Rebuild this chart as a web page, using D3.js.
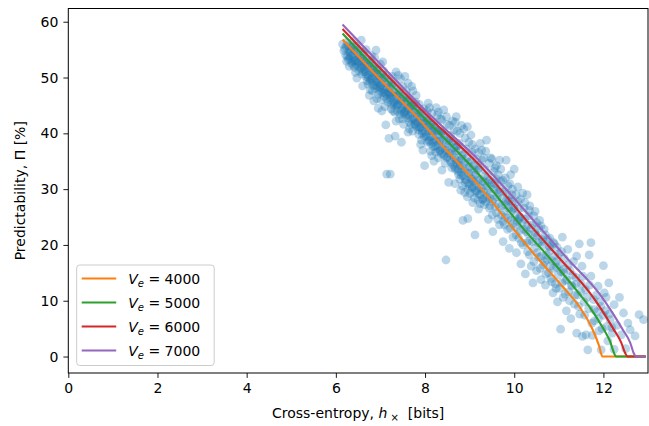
<!DOCTYPE html>
<html>
<head>
<meta charset="utf-8">
<script src="https://cdn.jsdelivr.net/npm/d3@7"></script>
<style>
  body { margin: 0; background: #fff; }
  text { font-family: "DejaVu Sans", sans-serif; fill: #000; }
</style>
</head>
<body>
<script>
// measured points: cross-entropy (bits) vs predictability (%)
var points = [
  [6.15,56.0],[6.2,55.2],[6.22,54.0],[6.25,56.3],[6.28,53.2],[6.3,55.0],[6.33,54.4],[6.35,52.6],[6.38,55.6],[6.4,53.5],
  [6.42,51.8],[6.45,54.8],[6.47,49.9],[6.48,52.9],[6.5,53.9],[6.52,51.2],[6.55,55.2],[6.57,52.3],[6.58,50.6],[6.6,53.4],
  [6.62,54.6],[6.3,52.0],[6.4,56.5],[6.27,55.7],[6.36,53.0],[6.57,56.7],
  [6.18,54.8],[6.23,55.6],[6.26,53.8],[6.29,54.6],[6.31,53.4],[6.34,55.3],[6.37,54.1],[6.39,52.2],[6.41,54.9],[6.43,53.1],
  [6.46,52.4],[6.49,54.3],[6.51,52.7],[6.53,53.6],[6.56,51.6],[6.59,52.9],[6.61,51.0],[6.63,53.0],[6.24,52.9],[6.44,50.9],
  [6.32,53.8],[6.42,53.0],[6.5,52.0],[6.58,51.8],[6.45,55.6],[6.62,54.2],
  [6.65,52.0],[6.67,50.2],[6.7,53.2],[6.72,48.8],[6.75,51.4],[6.78,49.6],[6.8,52.6],[6.82,47.6],[6.85,50.8],[6.87,53.6],
  [6.9,49.2],[6.9,54.9],[6.92,51.6],[6.95,47.0],[6.97,50.2],[7.0,48.4],[7.0,52.4],[7.02,46.0],[7.05,49.8],[7.07,51.2],
  [7.1,47.2],[7.1,44.8],[7.12,41.5],[7.13,50.4],[7.15,48.2],[7.17,45.6],[7.2,49.4],[7.2,46.8],[6.75,46.8],[6.85,45.8],
  [6.6,48.5],[6.95,44.5],[6.68,55.0],[6.8,53.9],[7.05,52.8],
  [6.64,51.4],[6.66,52.6],[6.69,50.6],[6.71,51.8],[6.73,50.0],[6.74,52.2],[6.76,49.2],[6.79,50.8],[6.81,49.9],[6.83,51.6],
  [6.84,48.6],[6.86,50.1],[6.88,48.0],[6.89,51.0],[6.91,49.6],[6.93,48.4],[6.94,50.6],[6.96,49.0],[6.98,47.6],[6.99,49.8],
  [7.01,48.8],[7.03,47.4],[7.04,50.6],[7.06,48.0],[7.08,46.6],[7.09,49.0],[7.11,47.8],[7.14,46.2],[7.16,49.0],[7.18,47.4],
  [6.77,47.8],[6.92,46.2],[7.03,44.0],[6.7,49.4],[6.86,52.2],
  [6.66,51.0],[6.74,50.4],[6.82,49.2],[6.9,48.6],[6.98,48.2],[7.06,47.4],[7.14,47.0],[6.78,53.0],[6.94,51.4],[7.1,50.0],
  [7.22,48.0],[7.25,45.2],[7.27,50.2],[7.3,46.6],[7.32,43.8],[7.33,48.8],[7.35,51.0],[7.37,45.0],[7.4,47.4],[7.42,42.6],
  [7.45,49.8],[7.47,44.2],[7.48,46.2],[7.5,48.4],[7.52,41.6],[7.55,45.4],[7.57,43.2],[7.58,47.6],[7.6,44.6],[7.62,49.0],
  [7.65,42.0],[7.67,46.0],[7.7,43.6],[7.72,40.4],[7.73,47.6],[7.75,45.0],[7.77,41.8],[7.8,44.2],[7.8,46.8],[7.19,39.1],
  [7.33,39.5],[7.47,38.4],[7.14,32.7],[7.22,32.7],[7.4,50.4],[7.55,50.2],[7.28,44.0],[7.62,40.2],[7.7,48.4],
  [7.21,46.0],[7.23,47.2],[7.24,44.4],[7.26,46.8],[7.29,45.6],[7.31,47.4],[7.34,45.4],[7.36,46.6],[7.38,44.0],[7.39,46.0],
  [7.41,45.2],[7.43,47.0],[7.44,43.4],[7.46,45.8],[7.49,44.6],[7.51,46.6],[7.53,43.8],[7.54,45.0],[7.56,44.0],[7.59,45.8],
  [7.61,42.8],[7.63,44.4],[7.64,46.2],[7.66,43.2],[7.68,44.8],[7.69,41.6],[7.71,45.2],[7.74,42.6],[7.76,43.8],[7.78,42.2],
  [7.79,45.6],[7.35,42.2],[7.5,42.6],[7.65,40.8],[7.27,48.6],
  [7.22,46.4],[7.3,45.2],[7.38,45.2],[7.46,44.0],[7.54,43.6],[7.62,43.4],[7.7,42.4],[7.78,41.6],[7.26,48.8],[7.42,47.6],
  [7.58,46.4],[7.74,45.0],
  [7.82,42.8],[7.85,40.6],[7.87,45.2],[7.9,43.6],[7.92,38.8],[7.95,41.8],[7.95,37.0],[7.97,44.4],[7.99,34.2],[8.0,40.2],
  [8.02,42.8],[8.05,38.4],[8.07,45.4],[8.1,41.4],[8.12,36.8],[8.15,43.6],[8.17,39.6],[8.2,42.0],[8.22,37.6],[8.25,44.6],
  [8.27,40.4],[8.3,35.6],[8.32,38.8],[8.35,42.6],[8.37,36.4],[8.4,40.0],[8.42,44.2],[8.45,34.6],[8.47,38.2],[8.5,41.6],
  [8.53,31.2],[8.47,17.3],[8.1,44.6],[8.3,43.8],[8.2,35.0],[7.88,41.0],[8.05,44.0],[8.38,33.4],
  [7.81,41.2],[7.83,43.6],[7.84,42.0],[7.86,39.8],[7.89,42.6],[7.91,41.0],[7.93,43.0],[7.94,40.0],[7.96,42.2],[7.98,39.4],
  [8.01,41.6],[8.03,39.8],[8.04,41.0],[8.06,42.2],[8.08,38.6],[8.09,40.6],[8.11,39.4],[8.13,41.8],[8.14,38.2],[8.16,40.4],
  [8.18,37.6],[8.19,41.0],[8.21,39.0],[8.23,40.6],[8.24,36.6],[8.26,38.6],[8.28,39.8],[8.29,37.2],[8.31,40.4],[8.33,36.8],
  [8.34,38.6],[8.36,40.2],[8.39,37.4],[8.41,38.8],[8.43,36.2],[8.44,39.6],[8.46,37.0],[8.49,35.6],[7.9,38.0],[8.15,36.0],
  [7.86,41.2],[7.94,40.4],[8.02,39.4],[8.1,38.8],[8.18,38.4],[8.26,37.8],[8.34,37.0],[8.42,36.0],[7.9,44.0],[8.06,42.6],
  [8.22,41.2],[8.38,40.4],[8.28,43.2],[8.38,42.4],[8.48,43.0],
  [8.55,36.4],[8.57,39.6],[8.6,33.8],[8.62,42.2],[8.65,37.4],[8.67,31.0],[8.7,35.2],[8.72,40.4],[8.75,32.6],[8.77,38.2],
  [8.8,29.8],[8.82,36.0],[8.85,24.4],[8.85,33.8],[8.87,40.8],[8.9,31.2],[8.92,37.2],[8.95,28.6],[8.96,24.7],[8.97,34.8],
  [9.0,30.6],[9.03,39.7],[9.05,36.6],[9.07,27.6],[9.1,33.0],[9.12,21.8],[9.12,29.4],[9.15,35.4],[9.17,31.6],[9.2,26.4],
  [9.22,33.8],[9.25,29.0],[9.27,37.0],[9.3,31.4],[8.6,38.4],[8.7,43.0],[8.95,41.2],[9.28,35.2],[8.75,36.8],[9.05,31.8],
  [8.51,37.6],[8.54,39.0],[8.56,35.2],[8.58,37.0],[8.61,36.2],[8.63,34.4],[8.64,38.6],[8.66,35.6],[8.68,33.6],[8.69,36.8],
  [8.71,34.6],[8.73,37.8],[8.74,33.2],[8.76,35.0],[8.78,31.8],[8.79,34.2],[8.81,33.0],[8.83,35.4],[8.84,30.6],[8.86,32.4],
  [8.88,34.6],[8.89,29.4],[8.91,33.2],[8.93,31.6],[8.94,35.6],[8.96,30.0],[8.98,32.8],[8.99,34.0],[9.01,29.2],[9.02,32.0],
  [9.04,33.6],[9.06,30.2],[9.08,31.4],[9.09,34.2],[9.11,28.4],[9.13,31.0],[9.14,32.6],[9.16,29.6],[9.18,33.4],[9.19,28.0],
  [9.21,30.4],[9.23,31.8],[9.24,27.4],[9.26,30.2],[9.29,28.2],
  [8.5,35.8],[8.58,34.8],[8.66,34.0],[8.74,33.6],[8.82,32.4],[8.9,31.8],[8.98,31.0],[9.06,30.4],[9.14,29.8],[9.22,29.0],
  [8.54,38.6],[8.7,37.6],[8.86,36.2],[9.02,35.0],[9.18,34.2],
  [8.55,41.4],[8.65,40.6],[8.68,42.0],[8.78,40.0],[8.82,41.4],[8.9,39.2],[8.98,38.4],[9.06,38.0],[9.12,37.2],[9.2,36.6],
  [9.24,38.2],
  [9.33,27.2],[9.35,33.4],[9.38,38.8],[9.4,29.8],[9.42,24.6],[9.45,31.6],[9.47,35.6],[9.5,27.8],[9.52,22.4],[9.55,30.0],
  [9.57,33.8],[9.6,25.8],[9.62,28.6],[9.67,35.2],[9.67,23.6],[9.7,31.4],[9.72,27.0],[9.75,20.6],[9.77,29.6],[9.8,25.0],
  [9.82,35.2],[9.85,22.8],[9.87,27.8],[9.89,19.4],[9.9,31.0],[9.92,24.4],[9.95,29.0],[9.97,21.4],[10.0,26.6],[10.0,33.6],
  [9.45,28.4],[9.6,31.8],[9.75,24.2],[9.9,28.0],
  [9.31,29.6],[9.34,31.2],[9.36,27.8],[9.39,30.6],[9.41,32.2],[9.44,26.6],[9.46,29.2],[9.49,30.8],[9.51,25.4],[9.53,28.2],
  [9.56,31.0],[9.58,26.8],[9.61,29.8],[9.63,24.6],[9.66,27.4],[9.68,30.0],[9.71,25.4],[9.73,28.4],[9.76,26.0],[9.78,23.6],
  [9.81,27.2],[9.83,29.2],[9.86,24.8],[9.88,26.6],[9.91,23.0],[9.93,26.0],[9.96,27.8],[9.98,23.8],
  [9.3,28.2],[9.38,28.6],[9.46,27.0],[9.34,32.4],[9.5,31.2],[9.66,29.4],[9.82,28.0],[9.98,26.6],
  [9.32,35.6],[9.36,36.8],[9.44,34.6],[9.5,35.4],[9.54,33.2],[9.6,34.2],[9.64,32.6],[9.7,33.6],[9.74,31.6],[9.8,32.0],
  [9.86,30.6],[9.92,32.6],[9.96,30.0],
  [10.03,23.2],[10.05,18.6],[10.08,27.8],[10.1,21.2],[10.12,25.0],[10.15,16.6],[10.18,23.8],[10.19,29.3],[10.2,20.0],[10.22,26.6],
  [10.25,14.8],[10.27,22.4],[10.29,29.0],[10.3,18.8],[10.32,25.2],[10.35,20.8],[10.38,16.2],[10.4,23.6],[10.42,13.2],[10.45,19.4],
  [10.47,26.0],[10.5,15.4],[10.52,21.6],[10.55,17.8],[10.57,24.4],[10.6,13.8],[10.62,19.8],[10.65,16.4],[10.67,22.8],[10.7,12.8],
  [10.72,18.2],[10.75,21.0],[10.77,15.0],[10.8,19.6],[10.1,24.6],[10.35,27.0],[10.55,23.0],
  [10.02,25.2],[10.04,21.8],[10.07,24.2],[10.09,26.4],[10.13,22.6],[10.16,20.4],[10.21,22.8],[10.24,24.6],[10.28,20.4],[10.31,22.0],
  [10.34,18.2],[10.37,23.0],[10.41,20.6],[10.44,17.0],[10.48,21.8],[10.51,18.6],[10.54,20.4],[10.58,15.8],[10.61,18.0],[10.64,21.0],
  [10.68,17.0],[10.71,14.8],[10.74,17.4],[10.78,19.8],[10.81,16.2],[10.84,13.4],[10.88,15.8],[10.91,18.0],[10.94,12.2],[10.98,14.6],
  [10.14,25.0],[10.3,23.6],[10.46,22.2],[10.62,20.6],[10.78,18.8],[10.94,17.0],
  [10.04,29.0],[10.08,30.4],[10.14,28.2],[10.24,27.6],[10.34,26.2],[10.44,25.2],[10.5,24.0],[10.6,23.4],[10.7,21.8],[10.8,21.2],
  [10.88,20.4],[10.96,19.6],
  [10.82,14.0],[10.85,17.2],[10.87,11.4],[10.9,20.2],[10.92,13.0],[10.95,16.0],[10.97,9.8],[11.0,18.4],[11.02,12.2],[11.04,4.9],
  [11.05,15.2],[11.08,21.4],[11.1,10.6],[11.12,17.6],[11.15,13.6],[11.17,8.2],[11.2,19.2],[11.22,11.6],[11.25,15.4],[11.27,6.8],
  [11.3,12.6],[11.33,17.0],[11.35,9.4],[11.38,14.2],[11.4,4.2],[11.42,11.0],[11.46,20.2],[11.47,7.6],[11.5,13.0],[11.52,16.2],
  [11.53,3.6],[11.57,9.8],[11.6,12.0],[11.61,3.9],[11.4,18.0],
  [11.03,16.6],[11.07,13.2],[11.11,15.0],[11.14,11.2],[11.18,13.8],[11.21,16.4],[11.24,10.0],[11.28,12.8],[11.31,14.6],[11.36,11.0],
  [11.39,13.0],[11.44,9.0],[11.49,11.6],[11.54,14.4],[11.58,7.4],[11.63,10.6],[11.69,12.8],[11.74,6.0],[11.79,8.4],[11.84,11.0],
  [11.89,6.8],[11.94,9.0],[11.97,5.0],[12.04,8.2],[12.13,7.6],[12.19,5.2],[11.06,18.8],[11.1,15.6],
  [11.65,1.2],[11.67,8.6],[11.72,20.4],[11.72,14.4],[11.75,3.8],[11.78,10.2],[11.8,6.4],[11.68,18.2],[11.85,8.0],[11.88,12.6],
  [11.9,4.6],[11.92,9.8],[11.95,1.2],[12.0,16.3],[12.0,7.4],[12.02,11.4],[12.06,10.6],[12.08,5.4],[12.1,2.8],[12.12,13.2],
  [12.15,6.6],[12.24,9.3],[12.2,4.2],[12.24,1.3],[12.3,5.6],[12.36,10.6],[12.4,3.9],[12.45,7.8],[12.5,1.4],[12.55,6.0],
  [12.6,4.8],[12.71,3.7],[12.8,7.5],[12.9,6.6]
];

// model curves for each vocabulary size V_e
var ve4000 = [[6.15,56.8],[7.0,49.6],[7.81,43.0],[8.475,37.0],[9.22,30.5],[10.0,22.7],[10.56,17.3],[11.09,12.5],[11.46,8.95],[11.76,4.8],[11.9,2.0],[11.98,0],[12.95,0]];
var ve5000 = [[6.15,57.9],[7.0,50.7],[7.95,43.0],[9.22,32.5],[10.23,22.7],[10.83,17.3],[11.45,11.35],[11.68,9.0],[12.0,5.0],[12.15,2.7],[12.24,0.6],[12.28,0],[12.95,0]];
var ve6000 = [[6.15,58.7],[7.0,51.6],[8.07,43.0],[9.22,34.3],[10.45,22.7],[11.05,17.3],[11.7,11.35],[11.95,8.5],[12.22,5.0],[12.4,2.5],[12.49,0.6],[12.54,0],[12.95,0]];
var ve7000 = [[6.15,59.5],[7.0,52.4],[8.15,43.0],[9.22,35.1],[10.62,22.7],[11.22,17.3],[11.9,11.35],[12.15,8.5],[12.42,5.0],[12.6,2.5],[12.68,0.6],[12.73,0],[12.95,0]];

var seriesNames = ["4000", "5000", "6000", "7000"];
var seriesColors = ["#ff7f0e", "#2ca02c", "#d62728", "#9467bd"];
var seriesData = [ve4000, ve5000, ve6000, ve7000];

var xTicks = [0, 2, 4, 6, 8, 10, 12];
var yTicks = [0, 10, 20, 30, 40, 50, 60];

var w = 649, h = 426;
var margin = {top: 8.5, right: 1, bottom: 53, left: 68.3};

var x = d3.scaleLinear().domain([0, 13]).range([margin.left, w - margin.right]);
var y = d3.scaleLinear().domain([-2.95, 62.37]).range([h - margin.bottom, margin.top]);

var svg = d3.select("body").append("svg")
    .attr("width", w)
    .attr("height", h);

svg.append("defs").append("clipPath")
    .attr("id", "plot-area")
  .append("rect")
    .attr("x", x(0))
    .attr("y", y(62.37))
    .attr("width", x(13) - x(0))
    .attr("height", y(-2.95) - y(62.37));

var plot = svg.append("g").attr("clip-path", "url(#plot-area)");

plot.selectAll(".dot")
    .data(points)
    .enter()
    .append("circle")
    .attr("class", "dot")
    .attr("cx", function(d) { return x(d[0]); })
    .attr("cy", function(d) { return y(d[1]); })
    .attr("r", 4.4)
    .attr("fill", "#1f77b4")
    .attr("fill-opacity", 0.3);

var line = d3.line()
    .x(function(d) { return x(d[0]); })
    .y(function(d) { return y(d[1]); })
    .curve(d3.curveMonotoneX);

plot.selectAll(".curve")
    .data(seriesData)
    .enter()
    .append("path")
    .attr("class", "curve")
    .attr("d", line)
    .attr("fill", "none")
    .attr("stroke", function(d, i) { return seriesColors[i]; })
    .attr("stroke-width", 2.1)
    .attr("stroke-linejoin", "round");

// axes
var xAxis = d3.axisBottom(x).tickValues(xTicks).tickSize(4.9).tickPadding(5);
var yAxis = d3.axisLeft(y).tickValues(yTicks).tickSize(4.9).tickPadding(5);

var gx = svg.append("g")
    .attr("transform", "translate(0," + y(-2.95) + ")")
    .call(xAxis);
var gy = svg.append("g")
    .attr("transform", "translate(" + x(0) + ",0)")
    .call(yAxis);

[gx, gy].forEach(function(g) {
  g.select(".domain").remove();
  g.selectAll("line").attr("stroke", "#000").attr("stroke-width", 0.9);
  g.selectAll("text")
    .attr("font-family", "DejaVu Sans, sans-serif")
    .attr("font-size", 14)
    .attr("fill", "#000");
});

svg.append("rect")
    .attr("x", x(0))
    .attr("y", y(62.37))
    .attr("width", x(13) - x(0))
    .attr("height", y(-2.95) - y(62.37))
    .attr("fill", "none")
    .attr("stroke", "#000")
    .attr("stroke-width", 1);

// axis labels
var xl = svg.append("text")
    .attr("x", (x(0) + x(13)) / 2)
    .attr("y", 418)
    .attr("text-anchor", "middle")
    .attr("font-size", 14);
xl.append("tspan").text("Cross-entropy, ");
xl.append("tspan").attr("font-style", "italic").text("h");
xl.append("tspan").attr("font-size", 10).attr("dy", 3).text("\u00a0\u00d7");
xl.append("tspan").attr("dy", -3).text("\u00a0 [bits]");

svg.append("text")
    .attr("transform", "translate(25," + ((y(62.37) + y(-2.95)) / 2) + ") rotate(-90)")
    .attr("text-anchor", "middle")
    .attr("font-size", 14)
    .text("Predictability, \u03a0 [%]");

// legend
var legend = svg.append("g").attr("transform", "translate(76.7,265)");

legend.append("rect")
    .attr("width", 137.5)
    .attr("height", 100.5)
    .attr("rx", 3)
    .attr("fill", "#fff")
    .attr("fill-opacity", 0.8)
    .attr("stroke", "#cccccc")
    .attr("stroke-width", 1);

var items = legend.selectAll(".item")
    .data(seriesNames)
    .enter()
    .append("g")
    .attr("class", "item")
    .attr("transform", function(d, i) { return "translate(0," + (13.5 + i * 24) + ")"; });

items.append("line")
    .attr("x1", 5)
    .attr("x2", 39.5)
    .attr("stroke", function(d, i) { return seriesColors[i]; })
    .attr("stroke-width", 2.1);

var labels = items.append("text")
    .attr("x", 51.5)
    .attr("y", 5)
    .attr("font-size", 14);
labels.append("tspan").attr("font-style", "italic").text("V");
labels.append("tspan").attr("font-style", "italic").attr("font-size", 10).attr("dy", 3).text("e");
labels.append("tspan").attr("dy", -3).text(function(d) { return " = " + d; });
</script>
</body>
</html>
